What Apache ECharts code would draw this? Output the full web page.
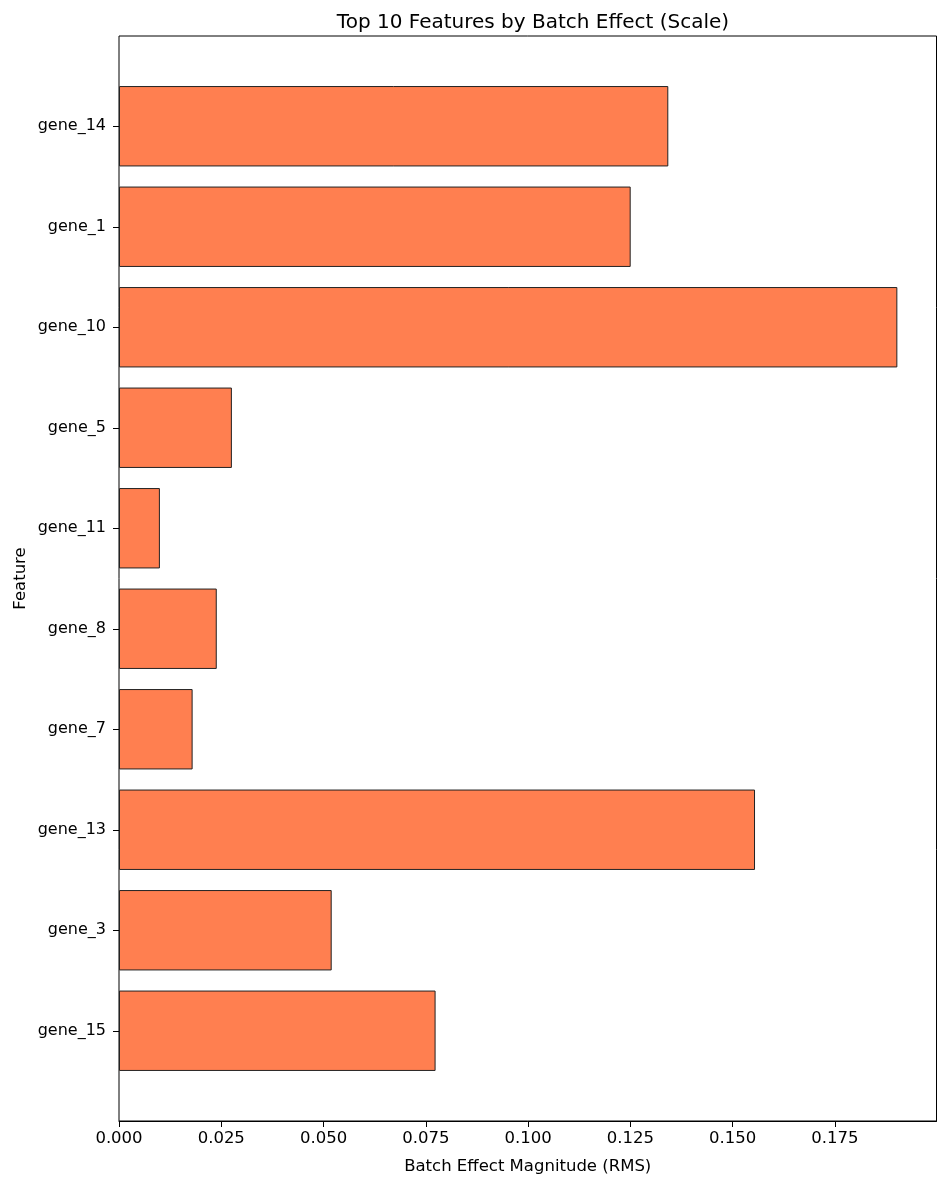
<!DOCTYPE html>
<html>
<head>
<meta charset="utf-8">
<script src="https://cdn.jsdelivr.net/npm/echarts@6/dist/echarts.min.js"></script>
<style>
  html, body { margin: 0; padding: 0; background: #fff; }
  #chart-container { width: 947px; height: 1187px; }
</style>
</head>
<body>
<div id="chart-container"></div>
<script>
var dom = document.getElementById("chart-container");
var myChart = echarts.init(dom, null, { renderer: "canvas" });

// top to bottom, as drawn
var features = ["gene_14", "gene_1", "gene_10", "gene_5", "gene_11", "gene_8", "gene_7", "gene_13", "gene_3", "gene_15"];
var batchEffect = [0.1343, 0.1251, 0.1903, 0.0276, 0.0100, 0.0239, 0.0180, 0.1555, 0.0520, 0.0774];
var xTicks = [0, 0.025, 0.05, 0.075, 0.1, 0.125, 0.15, 0.175];
var xMax = 0.19987;

var font = "DejaVu Sans";

var option = {
  backgroundColor: "#fff",
  animation: false,
  title: {
    text: "Top 10 Features by Batch Effect (Scale)",
    left: 528,
    top: 8,
    textAlign: "center",
    textStyle: { fontFamily: font, fontSize: 20, fontWeight: "normal", color: "#000" }
  },
  grid: [
    // bar bands
    { left: 119, right: 10.5, top: 76, bottom: 106 },
    // frame + x axis
    { left: 119, right: 10.5, top: 36, bottom: 66, show: true, borderColor: "#000", borderWidth: 1, backgroundColor: "transparent" }
  ],
  xAxis: [
    {
      gridIndex: 0, type: "value", min: 0, max: xMax, show: false
    },
    {
      gridIndex: 1, type: "value", min: 0, max: xMax,
      name: "Batch Effect Magnitude (RMS)",
      nameLocation: "middle",
      nameGap: 37,
      nameTextStyle: { fontFamily: font, fontSize: 16.5, color: "#000" },
      splitLine: { show: false },
      axisLine: { show: true, lineStyle: { color: "#000", width: 1 } },
      axisTick: { show: true, length: 6, lineStyle: { color: "#000" }, customValues: xTicks },
      axisLabel: {
        customValues: xTicks,
        margin: 9,
        fontFamily: font, fontSize: 16.5, color: "#000",
        formatter: function (v) { return v.toFixed(3); }
      }
    }
  ],
  yAxis: [
    {
      gridIndex: 0, type: "category", data: features, inverse: true,
      axisLine: { show: false },
      axisTick: { show: true, length: 6, alignWithLabel: true, lineStyle: { color: "#000" } },
      axisLabel: { margin: 13, fontFamily: font, fontSize: 16, color: "#000" },
      splitLine: { show: false }
    },
    {
      gridIndex: 1, type: "value", min: 0, max: 1,
      name: "Feature",
      nameLocation: "middle",
      nameGap: 90,
      nameRotate: 90,
      nameTextStyle: { fontFamily: font, fontSize: 16.5, color: "#000" },
      axisLine: { show: false },
      axisTick: { show: false },
      axisLabel: { show: false },
      splitLine: { show: false }
    }
  ],
  series: [
    {
      name: "batch effect",
      type: "bar",
      xAxisIndex: 0,
      yAxisIndex: 0,
      data: batchEffect,
      barWidth: "80%",
      itemStyle: { color: "#FF7F50", borderColor: "#222", borderWidth: 1 }
    }
  ]
};

myChart.setOption(option);
window.addEventListener("resize", myChart.resize);
</script>
</body>
</html>
